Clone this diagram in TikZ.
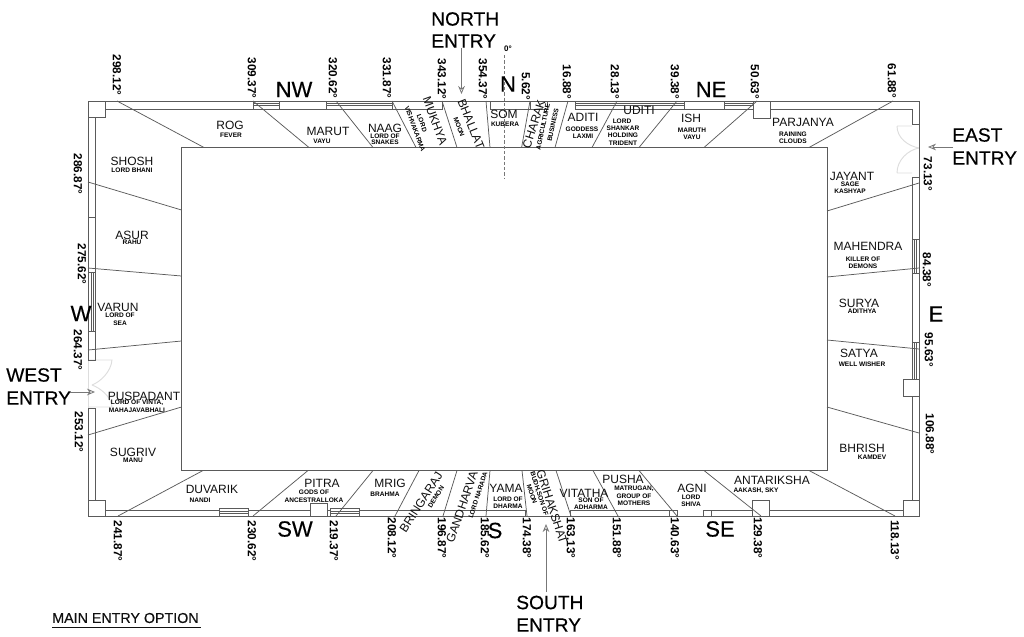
\documentclass[tikz,border=0pt]{standalone}
\usepackage{fontspec}
\setmainfont{Liberation Sans}
\newfontfamily\heavyfont[FakeBold=0.35]{Liberation Sans}
\usetikzlibrary{arrows.meta}
\definecolor{wallc}{HTML}{5A5A5A}
\definecolor{inkc}{HTML}{101010}
\definecolor{doorc}{HTML}{DDDDDD}
\definecolor{arrc}{HTML}{777777}
\tikzset{
 wall/.style={draw=wallc,line width=0.6pt},
 rad/.style={draw=wallc,line width=0.55pt},
 doorl/.style={draw=doorc,line width=0.7pt},
 entryarrow/.style={draw=arrc,line width=0.6pt,-{Stealth[open,length=6pt,width=5pt]}},
 deg/.style={font=\fontsize{8.8}{9}\selectfont\bfseries,rotate=-90,inner sep=0pt,text=black},
 big/.style={font=\heavyfont\fontsize{14.4}{15}\selectfont,inner sep=0pt,text=black,anchor=west},
 dirn/.style={font=\heavyfont\fontsize{16.5}{17}\selectfont,inner sep=0pt,text=black},
 rm/.style={font=\fontsize{9}{10}\selectfont,inner sep=0pt,text=inkc},
 sb/.style={font=\fontsize{4.9}{5}\selectfont\bfseries,inner sep=0pt,text=black},
}
\begin{document}
\begin{tikzpicture}[x=0.75pt,y=-0.75pt]
\useasboundingbox (0,0) rectangle (1024,636);
\fill[white] (0,0) rectangle (1024,636);
% door leaves
\draw[doorl] (897,126)--(912,126) (897,126) .. controls (897,138) and (908,146) .. (919,148);
\draw[doorl] (897,173)--(912,173) (897,173) .. controls (897,160) and (908,150) .. (919,148);
\draw[doorl] (88,360)--(112,360) .. controls (111,372) and (100,382) .. (92,385);
\draw[doorl] (88,407)--(112,407) .. controls (111,396) and (100,388) .. (92,385);
\draw[doorl] (88,360)--(88,408);
% outer and inner rectangles
\draw[wall] (88,360)--(88,101)--(919,101)--(919,516)--(88,516)--(88,408);
\draw[wall] (181.5,147.5) rectangle (827,470.5);
% corner boxes and pillars
\draw[wall] (88,101) rectangle (105,117);
\draw[wall] (88,500) rectangle (105,516);
\draw[wall] (903,500) rectangle (919,516);
\draw[wall] (753,101) rectangle (770,118);
\draw[wall] (752,500) rectangle (769,516);
\draw[wall] (310,503) rectangle (327,516);
\draw[wall] (903,379) rectangle (919,396);
% inner wall faces
\draw[wall] (105,109)--(253,109) (279,109)--(326.5,109) (392.5,109)--(442,109)--(442,101);
\draw[wall] (490,101)--(490,109)--(547,109)--(547,101) (530,101)--(530,109);
\draw[wall] (684,101)--(684,109)--(724,109)--(724,101);
\draw[wall] (770,109)--(912,109)--(912,124)--(919,124);
\draw[wall] (919,177)--(912,177)--(912,239) (912,273)--(912,342) (912,396)--(912,500);
\draw[wall] (105,510)--(219,510) (248,510)--(310,510) (327,510)--(330,510) (359,510)--(525,510)--(525,516);
\draw[wall] (570,516)--(570,510)--(677,510) (669,510)--(669,516) (677,510)--(677,516);
\draw[wall] (703,510)--(752,510) (703,510)--(703,516) (711,510)--(711,516) (769,510)--(903,510);
\draw[wall] (95.7,117)--(95.7,272) (95.7,331)--(95.7,360)--(88,360) (88,408)--(95.7,408)--(95.7,500);
\draw[wall] (88,217)--(95.7,217);
% windows
\foreach \a/\b in {253/279,326.5/392.5,575.5/684,724/753}{
  \draw[wall] (\a,101) rectangle (\b,109) (\a,103.6)--(\b,103.6) (\a,105.6)--(\b,105.6);
}
\foreach \a/\b in {219/248,330/359}{
  \draw[wall] (\a,508) rectangle (\b,516) (\a,511)--(\b,511) (\a,513)--(\b,513);
}
\draw[wall] (88,272) rectangle (95.7,331) (91,272)--(91,331) (93,272)--(93,331);
\draw[wall] (912,239) rectangle (919,273) (914.2,239)--(914.2,273) (916.4,239)--(916.4,273);
\draw[wall] (912,342) rectangle (919,379) (914.2,342)--(914.2,379) (916.4,342)--(916.4,379);
% radial division lines
\foreach \a/\b/\c/\d in {
 117/101/204/147.5, 253/101/309/147.5, 336/101/373/147.5, 392/101/416/147.5,
 442/101/457/147.5, 486/101/490/147.5, 530/101/521.6/147.5, 568/101/555/147.5,
 617/101/592/147.5, 677/101/639/147.5, 757/101/704/147.5, 893/101/809/147.5,
 919/183/827/211, 919/268/827/277, 919/349/827/340, 919/433/827/407,
 895/516/809/470.5, 761/516/704/470.5, 677/516/639/470.5, 618/516/593/470.5,
 571/516/556/470.5, 527/516/522/470.5, 486/516/490/470.5, 443/516/457/470.5,
 395/516/419/470.5, 336/516/373/470.5, 253/516/308/470.5, 118/516/203/470.5,
 88/435/181.5/407, 88/350/181.5/341, 88/268/181.5/276, 88/182/181.5/210}{
  \draw[rad] (\a,\b)--(\c,\d);
}
% north axis
\draw[draw=arrc,line width=0.5pt,dash pattern=on 2.5pt off 1.5pt] (504,55)--(504,178);
\node[inner sep=0pt,font=\fontsize{6}{6}\selectfont\bfseries] (zerodeg) at (508,49) {0°};
% degree labels
\foreach \a/\b/\t [count=\i] in {
 117/75/298.12, 252/78/309.37, 333/78/320.62, 387/78/331.87, 442/79/343.12, 483/79/354.37,
 526/86/5.62, 567/82/16.88, 615/82/28.13, 675/82/39.38, 755/82/50.63, 892/81/61.88,
 928/174/73.13, 927/270/84.38, 929/350/95.63, 930/434/106.88,
 895/540/118.13, 758/538/129.38, 675/538/140.63, 617/538/151.88, 571/538/163.13, 527/538/174.38,
 485/538/185.62, 442/538/196.87, 392/538/208.12, 334/541/219.37, 252/541/230.62, 118/541/241.87,
 79/432/253.12, 78/350/264.37, 82/264/275.62, 78/174/286.87}{
  \node[deg] (d\i) at (\a,\b) {\t°};
}
% compass letters
\node[dirn] (dn) at (508,84) {N};
\node[dirn] (dnw) at (294,89.5) {NW};
\node[dirn] (dne) at (711,89.5) {NE};
\node[dirn] (dse) at (720,529) {SE};
\node[dirn] (dsw) at (295,529) {SW};
\node[dirn] (ds) at (495,530.5) {S};
\node[dirn] (de) at (936,314) {E};
\node[dirn] (dw) at (81,313.5) {W};
% entries
\node[big] (n1) at (431,19) {NORTH};
\node[big] (n2) at (431,41) {ENTRY};
\node[big] (e1) at (952,135) {EAST};
\node[big] (e2) at (952,158) {ENTRY};
\node[big] (w1) at (6,375) {WEST};
\node[big] (w2) at (6,398) {ENTRY};
\node[big] (s1) at (516,602.5) {SOUTH};
\node[big] (s2) at (516,625) {ENTRY};
\coordinate (ntip) at (461.5,94);
\coordinate (ntail) at (461.5,48);
\coordinate (etip) at (928,147);
\coordinate (etail) at (953,147);
\coordinate (wtip) at (95,392);
\coordinate (wtail) at (70,392);
\coordinate (stip) at (546,524);
\coordinate (stail) at (546,592);
\draw[entryarrow] (ntail)--(ntip);
\draw[entryarrow] (etail)--(etip);
\draw[entryarrow] (wtail)--(wtip);
\draw[entryarrow] (stail)--(stip);
\node[inner sep=0pt,anchor=west,font=\heavyfont\fontsize{10.7}{11}\selectfont,text=inkc] (opt) at (52,618) {MAIN ENTRY OPTION};
\coordinate (ula) at (52,627);
\coordinate (ulb) at (201,627);
\draw[draw=inkc,line width=0.6pt] (ula)--(ulb);
% rooms: top
\node[rm] (rog) at (230,125) {ROG};
\node[sb] (rog1) at (231,135) {FEVER};
\node[rm] (marut) at (328,131) {MARUT};
\node[sb] (marut1) at (322,141) {VAYU};
\node[rm] (naag) at (385,128) {NAAG};
\node[sb] (naag1) at (385,136) {LORD OF};
\node[sb] (naag2) at (385,142) {SNAKES};
\node[rm,rotate=-70] (mukhya) at (435,121) {MUKHYA};
\node[sb,rotate=-70] (muk1) at (422,123) {LORD};
\node[sb,rotate=-70] (muk2) at (415,129) {VISHVAKARMA};
\node[rm,rotate=-68] (bhallat) at (471,124) {BHALLAT};
\node[sb,rotate=-70] (bha1) at (459,127) {MOON};
\node[rm] (som) at (504,114) {SOM};
\node[sb] (som1) at (505,124) {KUBERA};
\node[rm,rotate=72] (charak) at (534,124) {CHARAK};
\node[sb,rotate=78] (cha1) at (543,127) {AGRICULTURE};
\node[sb,rotate=78] (cha2) at (553,125) {BUSINESS};
\node[rm] (aditi) at (583,117) {ADITI};
\node[sb] (adi1) at (582,129) {GODDESS};
\node[sb] (adi2) at (583,136) {LAXMI};
\node[rm] (uditi) at (639,110) {UDITI};
\node[sb] (udi1) at (622,121) {LORD};
\node[sb] (udi2) at (623,128) {SHANKAR};
\node[sb] (udi3) at (623,135) {HOLDING};
\node[sb] (udi4) at (623,143) {TRIDENT};
\node[rm] (ish) at (691,118) {ISH};
\node[sb] (ish1) at (692,130) {MARUTH};
\node[sb] (ish2) at (692,137) {VAYU};
\node[rm] (parjanya) at (803,122) {PARJANYA};
\node[sb] (par1) at (793,134) {RAINING};
\node[sb] (par2) at (793,141) {CLOUDS};
% rooms: east
\node[rm] (jayant) at (852,176) {JAYANT};
\node[sb] (jay1) at (850,184) {SAGE};
\node[sb] (jay2) at (850,191) {KASHYAP};
\node[rm] (mahendra) at (868,246) {MAHENDRA};
\node[sb] (mah1) at (863,259) {KILLER OF};
\node[sb] (mah2) at (863,266) {DEMONS};
\node[rm] (surya) at (859,303) {SURYA};
\node[sb] (sur1) at (862,311) {ADITHYA};
\node[rm] (satya) at (859,353) {SATYA};
\node[sb] (sat1) at (862,364) {WELL WISHER};
\node[rm] (bhrish) at (862,448) {BHRISH};
\node[sb] (bhr1) at (872,457) {KAMDEV};
% rooms: south
\node[rm] (antariksha) at (772,480) {ANTARIKSHA};
\node[sb] (ant1) at (756,491) {AAKASH, SKY};
\node[rm] (agni) at (692,488) {AGNI};
\node[sb] (agn1) at (691,497) {LORD};
\node[sb] (agn2) at (691,504) {SHIVA};
\node[rm] (pusha) at (623,479) {PUSHA};
\node[sb] (pus1) at (634,489) {MATRUGAN,};
\node[sb] (pus2) at (634,496) {GROUP OF};
\node[sb] (pus3) at (634,503) {MOTHERS};
\node[rm] (vitatha) at (584,493) {VITATHA};
\node[sb] (vit1) at (591,500) {SON OF};
\node[sb] (vit2) at (591,507) {ADHARMA};
\node[rm,rotate=-72] (grihakshat) at (552,507) {GRIHAKSHAT};
\node[sb,rotate=-72] (gri1) at (539,494) {BUDH,SON OF};
\node[sb,rotate=-72] (gri2) at (532,494) {MOON};
\node[rm] (yama) at (506,488) {YAMA};
\node[sb] (yam1) at (508,499) {LORD OF};
\node[sb] (yam2) at (508,506) {DHARMA};
\node[rm,rotate=71] (gandharva) at (462,507) {GANDHARVA};
\node[sb,rotate=72] (gan1) at (478,495) {LORD NARADA};
\node[rm,rotate=57] (bringaraj) at (421,502) {BRINGARAJ};
\node[sb,rotate=57] (bri1) at (436,497) {DEMON};
\node[rm] (mrig) at (390,483) {MRIG};
\node[sb] (mri1) at (385,494) {BRAHMA};
\node[rm] (pitra) at (322,483) {PITRA};
\node[sb] (pit1) at (314,492) {GODS OF};
\node[sb] (pit2) at (314,500) {ANCESTRALLOKA};
\node[rm] (duvarik) at (212,489) {DUVARIK};
\node[sb] (duv1) at (200,500) {NANDI};
% rooms: west
\node[rm] (sugriv) at (133,452) {SUGRIV};
\node[sb] (sug1) at (133,460) {MANU};
\node[rm] (puspadant) at (144,396) {PUSPADANT};
\node[sb] (pus4) at (137,403) {LORD OF VINTA,};
\node[sb] (pus5) at (137,410) {MAHAJAVABHALI};
\node[rm] (varun) at (118,307) {VARUN};
\node[sb] (var1) at (120,315) {LORD OF};
\node[sb] (var2) at (120,323) {SEA};
\node[rm] (asur) at (132,235) {ASUR};
\node[sb] (asu1) at (132,242) {RAHU};
\node[rm] (shosh) at (132,161) {SHOSH};
\node[sb] (sho1) at (132,170) {LORD BHANI};
\end{tikzpicture}
\end{document}
